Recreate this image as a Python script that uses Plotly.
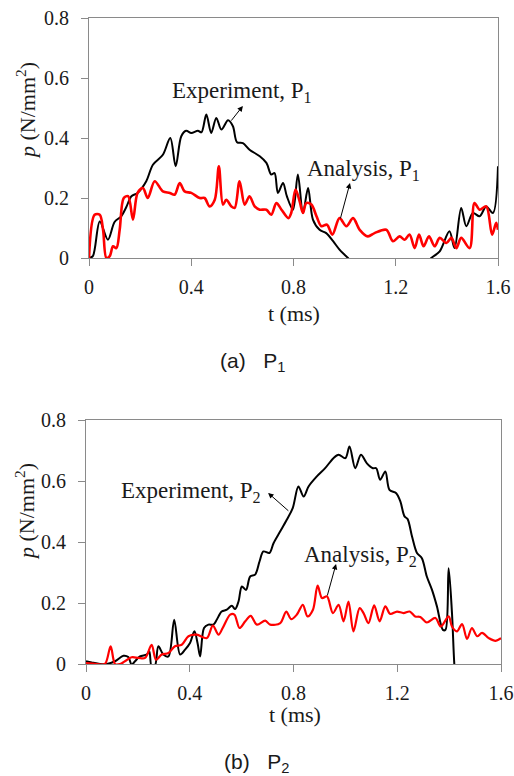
import plotly.graph_objects as go
from plotly.subplots import make_subplots

W, H = 514, 776

# ---------------- Data ----------------
t_exp1 = [0.0, 0.015, 0.042, 0.074, 0.10, 0.126, 0.146, 0.166, 0.19, 0.224, 0.25, 0.289, 0.318,
          0.339, 0.361, 0.38, 0.40, 0.426, 0.44, 0.459, 0.478, 0.498, 0.518, 0.544, 0.563,
          0.579, 0.602, 0.628, 0.668, 0.694, 0.713, 0.726, 0.739, 0.759, 0.774, 0.798, 0.817,
          0.837, 0.857, 0.876, 0.902, 0.928, 0.955, 0.98, 1.013, 1.06, 1.15, 1.25, 1.31,
          1.339, 1.372, 1.41, 1.43, 1.456, 1.476, 1.502, 1.528, 1.554, 1.58, 1.6]
p_exp1 = [0.0, 0.006, 0.122, 0.061, 0.12, 0.139, 0.17, 0.206, 0.217, 0.256, 0.311, 0.344, 0.40,
          0.306, 0.406, 0.424, 0.417, 0.424, 0.419, 0.478, 0.417, 0.467, 0.428, 0.459, 0.439,
          0.386, 0.383, 0.361, 0.339, 0.317, 0.278, 0.283, 0.217, 0.25, 0.206, 0.161, 0.278,
          0.15, 0.233, 0.128, 0.094, 0.083, 0.056, 0.028, 0.0, -0.05, -0.09, -0.07, -0.025,
          0.0, 0.022, 0.089, 0.033, 0.167, 0.106, 0.15, 0.139, 0.172, 0.15, 0.306]

t_ana1 = [0.0, 0.022, 0.042, 0.055, 0.068, 0.081, 0.094, 0.107, 0.12, 0.136, 0.153, 0.172, 0.19,
          0.211, 0.23, 0.257, 0.289, 0.316, 0.335, 0.355, 0.374, 0.40, 0.433, 0.452, 0.472,
          0.492, 0.508, 0.524, 0.537, 0.557, 0.57, 0.589, 0.609, 0.628, 0.648, 0.668, 0.694,
          0.713, 0.733, 0.753, 0.78, 0.791, 0.808, 0.824, 0.837, 0.85, 0.87, 0.89, 0.909,
          0.931, 0.952, 0.98, 1.007, 1.033, 1.059, 1.091, 1.117, 1.163, 1.189, 1.215, 1.235,
          1.254, 1.274, 1.291, 1.309, 1.33, 1.352, 1.372, 1.398, 1.418, 1.437, 1.456, 1.489,
          1.508, 1.528, 1.554, 1.577, 1.593, 1.6]
p_ana1 = [0.0, 0.144, 0.144, 0.094, 0.0, 0.006, 0.039, 0.033, 0.094, 0.2, 0.206, 0.128, 0.217,
          0.233, 0.2, 0.256, 0.222, 0.217, 0.211, 0.25, 0.222, 0.217, 0.2, 0.2, 0.172,
          0.194, 0.306, 0.178, 0.194, 0.172, 0.167, 0.256, 0.178, 0.206, 0.172, 0.161, 0.161,
          0.144, 0.183, 0.161, 0.133, 0.15, 0.228, 0.189, 0.15, 0.183, 0.178, 0.139, 0.106,
          0.111, 0.078, 0.133, 0.106, 0.133, 0.094, 0.072, 0.083, 0.094, 0.056, 0.072, 0.061,
          0.078, 0.033, 0.078, 0.039, 0.072, 0.039, 0.067, 0.05, 0.067, 0.033, 0.067, 0.033,
          0.183, 0.161, 0.172, 0.078, 0.117, 0.094]

t_exp2 = [0.0, 0.022, 0.054, 0.08, 0.112, 0.144, 0.163, 0.176, 0.189, 0.208, 0.234, 0.244, 0.253,
          0.266, 0.279, 0.298, 0.318, 0.34, 0.363, 0.382, 0.401, 0.418, 0.43, 0.44, 0.455,
          0.472, 0.491, 0.504, 0.523, 0.543, 0.562, 0.575, 0.588, 0.601, 0.617, 0.633, 0.652,
          0.669, 0.684, 0.707, 0.723, 0.749, 0.774, 0.797, 0.819, 0.839, 0.858, 0.89, 0.922,
          0.954, 0.974, 1.0, 1.016, 1.038, 1.06, 1.083, 1.106, 1.119, 1.134, 1.154, 1.17,
          1.196, 1.212, 1.228, 1.24, 1.257, 1.276, 1.295, 1.314, 1.334, 1.353, 1.376, 1.386,
          1.398, 1.411, 1.42, 1.43]
p_exp2 = [0.009, 0.005, 0.0, 0.0, 0.009, 0.027, 0.023, -0.002, 0.009, 0.025, 0.031, 0.041, -0.008,
          -0.005, 0.058, 0.031, 0.025, 0.145, 0.031, 0.047, 0.069, 0.107, 0.069, 0.025, 0.118,
          0.129, 0.129, 0.145, 0.172, 0.178, 0.191, 0.18, 0.205, 0.254, 0.243, 0.287, 0.293,
          0.336, 0.369, 0.364, 0.396, 0.435, 0.473, 0.511, 0.582, 0.549, 0.582, 0.615, 0.642,
          0.675, 0.686, 0.675, 0.713, 0.642, 0.686, 0.658, 0.642, 0.642, 0.604, 0.631, 0.571,
          0.56, 0.533, 0.484, 0.475, 0.418, 0.364, 0.347, 0.287, 0.243, 0.189, 0.112, 0.112,
          0.314, 0.167, 0.0, -0.1]

t_ana2 = [0.0, 0.041, 0.073, 0.095, 0.112, 0.131, 0.15, 0.176, 0.202, 0.228, 0.253, 0.27, 0.292,
          0.318, 0.343, 0.369, 0.395, 0.427, 0.466, 0.489, 0.511, 0.527, 0.556, 0.572, 0.592,
          0.614, 0.635, 0.659, 0.691, 0.71, 0.749, 0.772, 0.791, 0.813, 0.836, 0.854, 0.875,
          0.893, 0.91, 0.929, 0.952, 0.974, 0.993, 1.012, 1.031, 1.055, 1.07, 1.089, 1.111,
          1.132, 1.154, 1.173, 1.199, 1.224, 1.248, 1.269, 1.289, 1.314, 1.347, 1.368, 1.398,
          1.411, 1.43, 1.45, 1.469, 1.488, 1.508, 1.527, 1.553, 1.579, 1.6]
p_ana2 = [0.003, 0.0, 0.0, 0.058, 0.0, 0.0, 0.009, 0.022, 0.02, 0.02, 0.063, 0.014, 0.031,
          0.036, 0.058, 0.063, 0.091, 0.096, 0.085, 0.126, 0.096, 0.118, 0.162, 0.162, 0.118,
          0.14, 0.158, 0.129, 0.142, 0.129, 0.134, 0.172, 0.147, 0.162, 0.194, 0.156, 0.178,
          0.257, 0.216, 0.222, 0.167, 0.194, 0.14, 0.205, 0.107, 0.183, 0.167, 0.134, 0.192,
          0.14, 0.189, 0.164, 0.172, 0.167, 0.172, 0.156, 0.154, 0.136, 0.151, 0.123, 0.156,
          0.123, 0.107, 0.131, 0.082, 0.118, 0.091, 0.102, 0.085, 0.076, 0.085]

x_ticks = [0, 0.4, 0.8, 1.2, 1.6]
x_tick_labels = ["0", "0.4", "0.8", "1.2", "1.6"]
y_ticks = [0, 0.2, 0.4, 0.6, 0.8]
y_tick_labels = ["0", "0.2", "0.4", "0.6", "0.8"]

# ---------------- Figure ----------------
SERIF = "Liberation Serif"
SANS = "Liberation Sans"
AXIS_GRAY = "#8a8a8a"
TXT = "#1a1a1a"


def fx(x):
    """window pixel x -> paper fraction"""
    return x / W


def fy(y):
    """window pixel y (from top) -> paper fraction"""
    return 1 - y / H


fig = make_subplots(rows=2, cols=1)

series = [
    (t_exp1, p_exp1, "black", 2.0, 1, "Experiment, P1"),
    (t_ana1, p_ana1, "#ff0000", 2.6, 1, "Analysis, P1"),
    (t_exp2, p_exp2, "black", 2.0, 2, "Experiment, P2"),
    (t_ana2, p_ana2, "#ff0000", 2.2, 2, "Analysis, P2"),
]
for tx, py, col, lw, row, name in series:
    fig.add_trace(go.Scatter(x=tx, y=py, mode="lines", name=name,
                             line=dict(color=col, width=lw, shape="spline", smoothing=0.9),
                             showlegend=False, hoverinfo="skip"), row=row, col=1)


def axis(domain, anchor, rng, tv, tt, standoff):
    return dict(domain=domain, anchor=anchor, range=rng, tickvals=tv, ticktext=tt,
                showline=True, mirror=True, linecolor=AXIS_GRAY, linewidth=1,
                ticks="outside", ticklen=7, tickcolor=AXIS_GRAY, tickwidth=1,
                showgrid=False, zeroline=False, automargin=False,
                ticklabelstandoff=standoff, ticklabeloverflow="allow",
                tickfont=dict(family=SERIF, size=20, color=TXT))


fig.update_layout(
    xaxis=axis([fx(89), fx(498)], "y", [0, 1.6], x_ticks, x_tick_labels, 4),
    yaxis=axis([fy(258), fy(18)], "x", [0, 0.8], y_ticks, y_tick_labels, 8),
    xaxis2=axis([fx(86), fx(501)], "y2", [0, 1.6], x_ticks, x_tick_labels, 4),
    yaxis2=axis([fy(664), fy(420)], "x2", [0, 0.8], y_ticks, y_tick_labels, 8),
    width=W, height=H,
    margin=dict(l=0, r=0, t=0, b=0),
    paper_bgcolor="white", plot_bgcolor="white",
    font=dict(family=SERIF, size=20, color=TXT),
)

annotations = []


def text_ann(x, y, text, size=22, font=SERIF, angle=0, xanchor="center"):
    annotations.append(dict(x=fx(x), y=fy(y), xref="paper", yref="paper", text=text,
                            showarrow=False, textangle=angle, xanchor=xanchor, yanchor="middle",
                            font=dict(family=font, size=size, color=TXT)))


# axis titles
text_ann(26, 111, "<i>p</i> (N/mm<sup>2</sup>)", angle=-90)
text_ann(294, 313, "t (ms)")
text_ann(25, 512, "<i>p</i> (N/mm<sup>2</sup>)", angle=-90)
text_ann(295, 714, "t (ms)")

# series labels
text_ann(242, 92, "Experiment, P<sub>1</sub>", size=23)
text_ann(363, 170, "Analysis, P<sub>1</sub>", size=23)
text_ann(191, 492, "Experiment, P<sub>2</sub>", size=23)
text_ann(360, 556, "Analysis, P<sub>2</sub>", size=23)

# captions
text_ann(218, 362, "(a)\u00a0\u00a0\u00a0P<sub>1</sub>", size=21, font=SANS, xanchor="left")
text_ann(222, 763, "(b)\u00a0\u00a0\u00a0P<sub>2</sub>", size=21, font=SANS, xanchor="left")

# arrows (data coordinates)
arrows = [
    ("x", "y", 0.552, 0.453, 0.602, 0.507),
    ("x", "y", 0.982, 0.127, 1.021, 0.25),
    ("x2", "y2", 0.786, 0.498, 0.702, 0.561),
    ("x2", "y2", 0.929, 0.22, 0.964, 0.328),
]
for xr, yr, x0, y0, x1, y1 in arrows:
    annotations.append(dict(x=x1, y=y1, ax=x0, ay=y0, xref=xr, yref=yr, axref=xr, ayref=yr,
                            text="", showarrow=True, arrowhead=2, arrowsize=1.1,
                            arrowwidth=1, arrowcolor="black"))

fig.update_layout(annotations=annotations)

# remove the default page margin so the 514x776 figure fills the window exactly
fig.write_html("out.html",
               config={"displayModeBar": False, "staticPlot": True},
               post_script="document.body.style.margin='0';document.body.style.overflow='hidden';")
